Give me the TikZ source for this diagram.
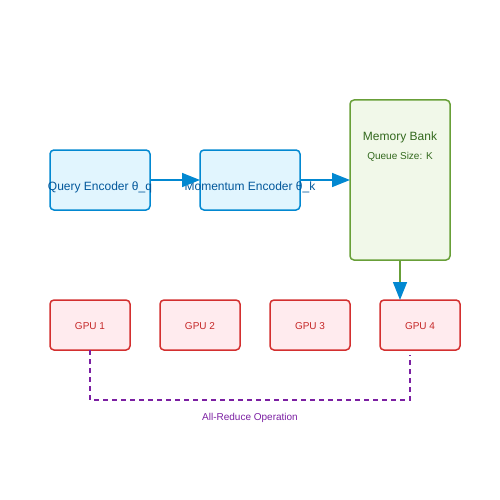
\documentclass[tikz,border=0pt]{standalone}
\usepackage{fontspec}
\setmainfont{Liberation Sans}
\usetikzlibrary{arrows.meta}
\definecolor{encfill}{HTML}{E1F5FE}
\definecolor{encdraw}{HTML}{0288D1}
\definecolor{enctext}{HTML}{01579B}
\definecolor{memfill}{HTML}{F1F8E9}
\definecolor{memdraw}{HTML}{689F38}
\definecolor{memtext}{HTML}{33691E}
\definecolor{gpufill}{HTML}{FFEBEE}
\definecolor{gpudraw}{HTML}{D32F2F}
\definecolor{gputext}{HTML}{C62828}
\definecolor{reduce}{HTML}{7B1FA2}
\tikzset{
  box/.style={draw, line width=1.5pt, rounded corners=4pt, inner sep=0pt},
  encbox/.style={box, draw=encdraw, fill=encfill},
  membox/.style={box, draw=memdraw, fill=memfill},
  gpubox/.style={box, draw=gpudraw, fill=gpufill},
  enclabel/.style={text=enctext, font=\fontsize{12}{14}\selectfont},
  gpulabel/.style={text=gputext, font=\fontsize{10}{12}\selectfont},
  flow/.style={line width=1.5pt, -{Triangle[length=18pt,width=14pt,color=encdraw]}},
  reduceline/.style={draw=reduce, line width=1.5pt, dash pattern=on 5pt off 4pt},
}
\begin{document}
\begin{tikzpicture}[x=1pt,y=-1pt]
\useasboundingbox (0,0) rectangle (500,500);
% boxes
\draw[encbox] (50,150) rectangle (150,210);
\node[enclabel] (qlab) at (100,187.5) {Query Encoder θ\_q};
\draw[encbox] (200,150) rectangle (300,210);
\node[enclabel] (mlab) at (250,187.5) {Momentum Encoder θ\_k};
\draw[membox] (350,100) rectangle (450,260);
\node[text=memtext, font=\fontsize{12}{14}\selectfont] (mb) at (400,137.5) {Memory Bank};
\node[text=memtext, font=\fontsize{10}{12}\selectfont] (qs) at (400,157) {Queue Size: K};
\draw[gpubox] (50,300) rectangle (130,350);
\node[gpulabel] (g1) at (90,326.5) {GPU 1};
\draw[gpubox] (160,300) rectangle (240,350);
\node[gpulabel] (g2) at (200,326.5) {GPU 2};
\draw[gpubox] (270,300) rectangle (350,350);
\node[gpulabel] (g3) at (310,326.5) {GPU 3};
\draw[gpubox] (380,300) rectangle (460,350);
\node[gpulabel] (g4) at (420,326.5) {GPU 4};
% anchor coordinates
\coordinate (qR) at (150,180);
\coordinate (mL) at (200,180);
\coordinate (mR) at (300,180);
\coordinate (bL) at (350,180);
\coordinate (bB) at (400,260);
\coordinate (g4T) at (400,300);
\coordinate (g1B) at (90,350);
\coordinate (g4B) at (410,355);
\coordinate (c1) at (90,400);
\coordinate (c2) at (410,400);
% connectors
\draw[flow, draw=encdraw] (qR) -- (mL);
\draw[flow, draw=encdraw] (mR) -- (bL);
\draw[flow, draw=memdraw] (bB) -- (g4T);
\draw[reduceline] (g1B) -- (c1) -- (c2) -- (g4B);
\node[text=reduce, font=\fontsize{10}{12}\selectfont] (ar) at (250,417.5) {All-Reduce Operation};
\end{tikzpicture}
\end{document}
